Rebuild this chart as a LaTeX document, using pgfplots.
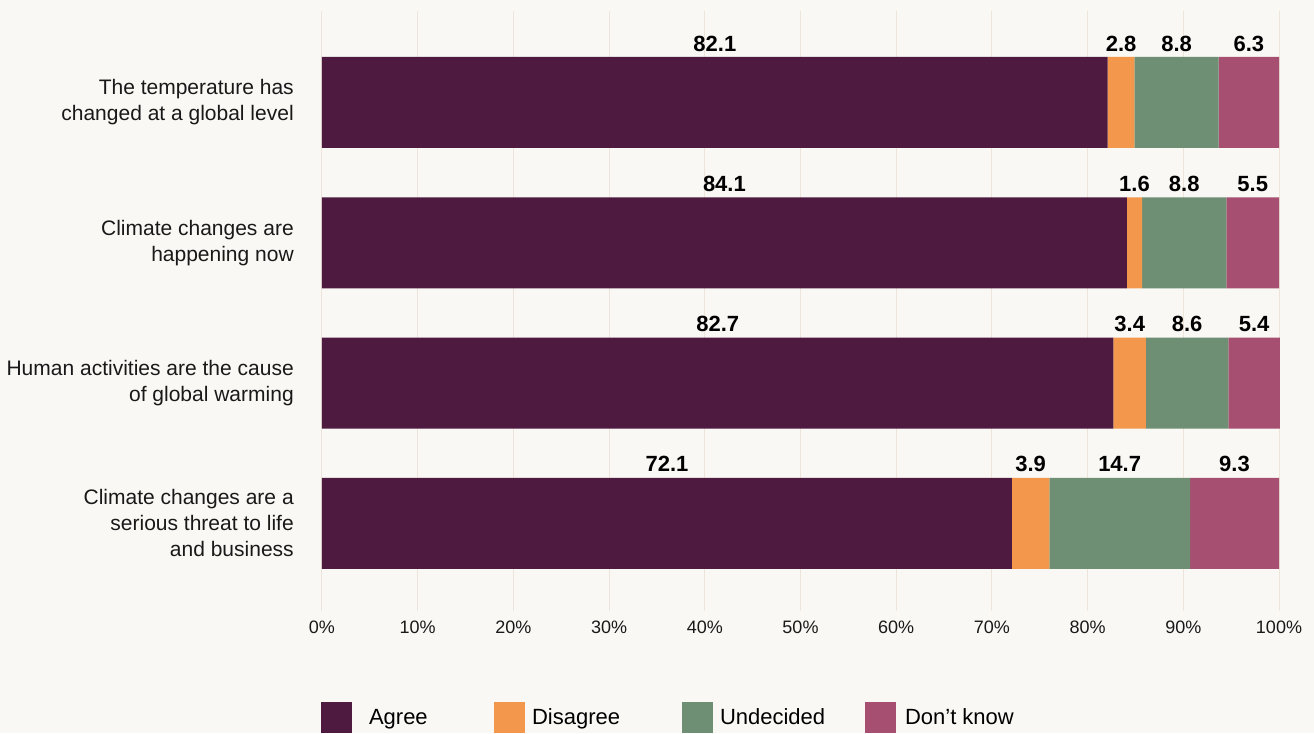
\documentclass[border=0pt]{standalone}
\usepackage{pgfplots}
\pgfplotsset{compat=1.18}
\usepackage{pgfplotstable}
\usepackage{fontspec}
\setmainfont{Liberation Sans}
\definecolor{bgc}{HTML}{F9F8F4}
\definecolor{gridc}{HTML}{EEE4DA}
\definecolor{agree}{HTML}{4E1A40}
\definecolor{disagree}{HTML}{F2974B}
\definecolor{undecided}{HTML}{6E8F73}
\definecolor{dontknow}{HTML}{A64F71}

\pgfplotstableread{
y agree disagree undecided dontknow
0 82.1 2.8 8.8 6.3
1 84.1 1.6 8.8 5.5
2 82.7 3.4 8.6 5.4
3 72.1 3.9 14.7 9.3
}\datatable

\pgfplotstableread{
x y label
41.05 0 82.1
83.50 0 2.8
89.30 0 8.8
96.85 0 6.3
42.05 1 84.1
84.90 1 1.6
90.10 1 8.8
97.25 1 5.5
41.35 2 82.7
84.40 2 3.4
90.40 2 8.6
97.40 2 5.4
36.05 3 72.1
74.05 3 3.9
83.35 3 14.7
95.35 3 9.3
}\labeltable

\pgfplotsset{
  common/.style={
    scale only axis,
    width=717.75pt, height=450pt,
    xmin=0, xmax=100,
    ymin=-0.652, ymax=3.624,
    y dir=reverse,
    clip=false,
  },
  legsq/.style={
    legend image code/.code={\fill[##1,draw=none] (0pt,-6.75pt) rectangle (23.25pt,16.5pt);}
  },
}

\begin{document}
\begin{tikzpicture}
\fill[bgc] (-241.5pt,-91.5pt) rectangle (744pt,458.25pt);
\begin{axis}[
  common,
  xbar stacked,
  bar width=68.25pt,
  axis line style={draw=none},
  major tick length=0pt,
  xmajorgrids,
  grid style={line width=0.75pt, color=gridc},
  xtick={0,10,...,100},
  xticklabels={0\%,10\%,20\%,30\%,40\%,50\%,60\%,70\%,80\%,90\%,100\%},
  xticklabel style={anchor=base, yshift=-16.5pt, font=\fontsize{13.5}{16}\selectfont, text=black!90},
  ytick={0,1,2,3},
  yticklabels={{The temperature has\\changed at a global level},
               {Climate changes are\\happening now},
               {Human activities are the cause\\of global warming},
               {Climate changes are a\\serious threat to life\\and business}},
  yticklabel style={anchor=east, align=right, inner sep=0pt, xshift=-21pt,
                    font=\fontsize{15.75}{19.5}\selectfont, text=black!90},
  legend columns=4,
  legend style={draw=none, fill=none, inner sep=0pt, outer sep=0pt,
    at={(-0.001,-0.15167)}, anchor=north west,
    font=\fontsize{16.5}{19}\selectfont,
    cells={anchor=base west},
    nodes={inner sep=0pt},
    /tikz/every odd column/.style={column sep=5.25pt},
    /tikz/every even column/.style={column sep=0pt}},
]
\addplot[fill=agree, draw=none, legsq] table[x=agree, y=y] {\datatable};
\addlegendentry{\makebox[101.25pt][l]{\hspace*{7.5pt}Agree}}
\addplot[fill=disagree, draw=none, legsq] table[x=disagree, y=y] {\datatable};
\addlegendentry{\makebox[112.5pt][l]{Disagree}}
\addplot[fill=undecided, draw=none, legsq] table[x=undecided, y=y] {\datatable};
\addlegendentry{\makebox[108.75pt][l]{Undecided}}
\addplot[fill=dontknow, draw=none, legsq] table[x=dontknow, y=y] {\datatable};
\addlegendentry{\hspace*{1.5pt}Don’t know}
\end{axis}
\begin{axis}[
  common,
  hide axis,
]
\addplot[draw=none, mark=none,
  nodes near coords,
  point meta=explicit symbolic,
  every node near coord/.append style={anchor=base, inner sep=0pt, yshift=38.6pt,
     font=\bfseries\fontsize{16.5}{19}\selectfont, text=black},
] table[x=x, y=y, meta=label] {\labeltable};
\end{axis}
\pgfresetboundingbox
\path[use as bounding box] (-241.5pt,-91.5pt) rectangle (744pt,458.25pt);
\end{tikzpicture}
\end{document}
